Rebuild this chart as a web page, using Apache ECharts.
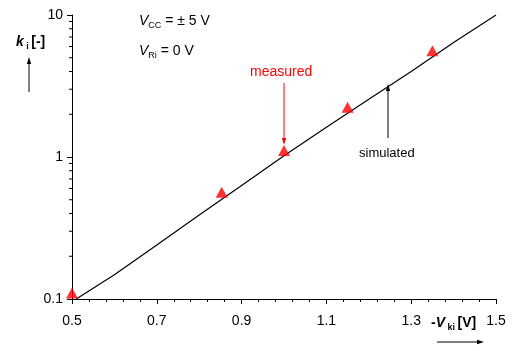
<!DOCTYPE html>
<html>
<head>
<meta charset="utf-8">
<script src="https://cdn.jsdelivr.net/npm/echarts@6/dist/echarts.min.js"></script>
<style>
html, body { margin: 0; padding: 0; background: #fff; }
#chart { width: 513px; height: 351px; }
</style>
</head>
<body>
<div id="chart"></div>
<script>
// Axis ranges and tick values
const xMin = 0.5, xMax = 1.5, xStep = 0.2;
const yMin = 0.1, yMax = 10;
const yMinorTicks = [0.2, 0.3, 0.4, 0.5, 0.6, 0.7, 0.8, 0.9, 2, 3, 4, 5, 6, 7, 8, 9];

// Simulated current gain k_i versus -V_ki
const simX = [0.51, 0.6, 0.7, 0.8, 0.9, 1.0, 1.1, 1.2, 1.3, 1.4, 1.5];
const simY = [0.1, 0.148, 0.24, 0.39, 0.63, 1.02, 1.62, 2.55, 4.0, 6.4, 10];

// Measured points
const measX = [0.5, 0.853, 1.0, 1.15, 1.35];
const measY = [0.11, 0.565, 1.11, 2.24, 5.6];

const FONT = '"Liberation Sans", Arial, sans-serif';

const chart = echarts.init(document.getElementById('chart'), null, { renderer: 'canvas' });

function arrow(x1, y1, x2, y2, color) {
  // shaft plus a small filled head at (x2, y2)
  const ang = Math.atan2(y2 - y1, x2 - x1);
  const hl = 7, hw = 2.2;
  const bx = x2 - hl * Math.cos(ang), by = y2 - hl * Math.sin(ang);
  const px = -Math.sin(ang) * hw, py = Math.cos(ang) * hw;
  return [
    { type: 'line', shape: { x1: x1, y1: y1, x2: bx, y2: by }, style: { stroke: color, lineWidth: 1 }, z: 10 },
    { type: 'polygon', shape: { points: [[x2, y2], [bx + px, by + py], [bx - px, by - py]] }, style: { fill: color }, z: 10 }
  ];
}

function richStyle(bold) {
  const w = bold ? 'bold' : 'normal';
  return {
    v: { fontFamily: FONT, fontSize: 14, fontStyle: 'italic', fontWeight: w, fill: '#000', lineHeight: 17, verticalAlign: 'bottom' },
    s: { fontFamily: FONT, fontSize: 9, fontWeight: w, fill: '#000', lineHeight: 17, verticalAlign: 'bottom', padding: [0, 0, -2, 0] },
    t: { fontFamily: FONT, fontSize: 14, fontWeight: w, fill: '#000', lineHeight: 17, verticalAlign: 'bottom' }
  };
}

const graphics = [
  { type: 'text', left: 139, top: 14, z: 10, style: { text: '{v|V}{s|CC}{t| = ± 5 V}', rich: richStyle(false) } },
  { type: 'text', left: 139, top: 44, z: 10, style: { text: '{v|V}{s|Ri}{t| = 0 V}', rich: richStyle(false) } },
  { type: 'text', left: 16, top: 35, z: 10, style: { text: '{v|k}{s| i }{t|[-]}', rich: richStyle(true) } },
  { type: 'text', left: 431, top: 316, z: 10, style: { text: '{t|-}{v|V}{s| ki }{t|[V]}', rich: richStyle(true) } },
  { type: 'text', left: 250, top: 65, z: 10, style: { text: 'measured', fontFamily: FONT, fontSize: 14, fill: '#ff0000' } },
  { type: 'text', left: 359, top: 147, z: 10, style: { text: 'simulated', fontFamily: FONT, fontSize: 13, fill: '#000' } }
].concat(
  arrow(29, 92, 29, 57, '#000'),
  arrow(437, 342, 484, 342, '#000'),
  arrow(284, 83, 284, 145, '#ff0000'),
  arrow(388, 138, 388, 84, '#000')
);

const option = {
  backgroundColor: '#fff',
  animation: false,
  grid: { left: 72, right: 17, top: 15, bottom: 52, containLabel: false },
  xAxis: {
    type: 'value', min: xMin, max: xMax, interval: xStep,
    axisLine: { show: true, onZero: false, lineStyle: { color: '#000', width: 1 } },
    axisTick: { show: true, inside: false, length: 5, lineStyle: { color: '#000' } },
    minorTick: { show: true, splitNumber: 5, length: 3, lineStyle: { color: '#000' } },
    splitLine: { show: false },
    axisLabel: {
      margin: 15, color: '#000', fontFamily: FONT, fontSize: 14,
      formatter: v => v.toFixed(1)
    }
  },
  yAxis: {
    type: 'log', logBase: 10, min: yMin, max: yMax,
    axisLine: { show: true, onZero: false, lineStyle: { color: '#000', width: 1 } },
    axisTick: { show: true, inside: false, length: 5, lineStyle: { color: '#000' } },
    splitLine: { show: false },
    axisLabel: {
      margin: 9, color: '#000', fontFamily: FONT, fontSize: 14,
      formatter: v => (v < 1 ? String(Math.round(v * 10) / 10) : String(Math.round(v)))
    }
  },
  series: [
    {
      // short minor ticks at 2..9 of each decade on the log axis
      type: 'custom',
      clip: false,
      silent: true,
      data: yMinorTicks.map(v => [xMin, v]),
      renderItem: function (params, api) {
        const p = api.coord([api.value(0), api.value(1)]);
        return {
          type: 'line',
          shape: { x1: p[0] - 3, y1: p[1], x2: p[0], y2: p[1] },
          style: { stroke: '#000', lineWidth: 1 }
        };
      },
      z: 1
    },
    {
      name: 'simulated',
      type: 'line',
      data: simX.map((x, i) => [x, simY[i]]),
      showSymbol: false,
      symbol: 'none',
      lineStyle: { color: '#000', width: 1.2 },
      z: 2
    },
    {
      name: 'measured',
      type: 'scatter',
      data: measX.map((x, i) => [x, measY[i]]),
      symbol: 'triangle',
      symbolSize: [12, 11],
      itemStyle: { color: '#ff0000' },
      clip: false,
      z: 3
    }
  ],
  graphic: graphics
};

chart.setOption(option);
</script>
</body>
</html>
